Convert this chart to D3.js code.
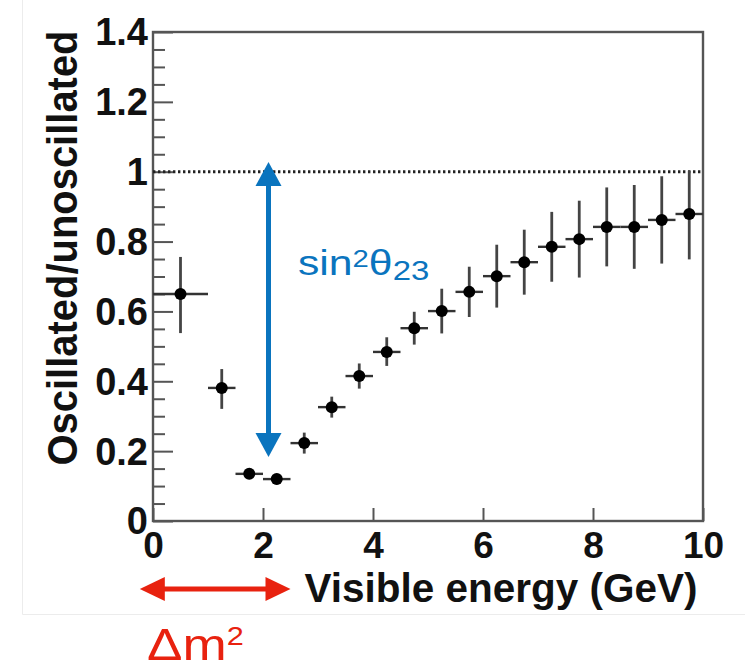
<!DOCTYPE html>
<html>
<head>
<meta charset="utf-8">
<script src="https://cdn.jsdelivr.net/npm/d3@7"></script>
<style>
  html, body { margin: 0; padding: 0; background: #fff; }
  svg { display: block; }
  text { font-family: "Liberation Sans", Arial, Helvetica, sans-serif; }
</style>
</head>
<body>
<svg id="chart" width="745" height="670"></svg>
<script>
// Bin centres (GeV), bin half-widths, ratio values and asymmetric errors
const energy    = [0.5, 1.25, 1.75, 2.25, 2.75, 3.25, 3.75, 4.25, 4.75, 5.25, 5.75, 6.25, 6.75, 7.25, 7.75, 8.25, 8.75, 9.25, 9.75];
const halfWidth = [0.5, 0.25, 0.25, 0.25, 0.25, 0.25, 0.25, 0.25, 0.25, 0.25, 0.25, 0.25, 0.25, 0.25, 0.25, 0.25, 0.25, 0.25, 0.25];
const ratio     = [0.65, 0.381, 0.135, 0.12, 0.223, 0.326, 0.415, 0.484, 0.552, 0.601, 0.656, 0.701, 0.741, 0.785, 0.807, 0.842, 0.842, 0.862, 0.879];
const errUp     = [0.106, 0.054, 0.015, 0.015, 0.03, 0.03, 0.036, 0.042, 0.047, 0.064, 0.072, 0.09, 0.093, 0.1, 0.11, 0.113, 0.12, 0.125, 0.124];
const errDown   = [0.112, 0.06, 0.015, 0.015, 0.03, 0.03, 0.036, 0.04, 0.047, 0.064, 0.072, 0.09, 0.093, 0.1, 0.11, 0.113, 0.12, 0.125, 0.13];

// Axis ticks
const xTicks      = [0, 2, 4, 6, 8, 10];
const yMajorTicks = [0, 0.2, 0.4, 0.6, 0.8, 1, 1.2, 1.4];
const yMinorTicks = d3.range(0, 1.4001, 0.05).filter(v => Math.abs(Math.round(v * 5) - v * 5) > 1e-6);
const xTickLabels = ["0", "2", "4", "6", "8", "10"];
const yTickLabels = ["0", "0.2", "0.4", "0.6", "0.8", "1", "1.2", "1.4"];

// Annotation extents in data units
const mixingArrow = { energy: 2.1, from: 0.183, to: 1.028 };   // sin²θ23 depth
const massArrow   = { from: -0.24, to: 2.5 };                  // Δm² position

const svg = d3.select("#chart");
const W = 745, H = 670;
const plot = { left: 153, right: 703, top: 32, bottom: 521 };

const x = d3.scaleLinear().domain([0, 10]).range([plot.left, plot.right]);
const y = d3.scaleLinear().domain([0, 1.4]).range([plot.bottom, plot.top]);

svg.append("rect").attr("width", W).attr("height", H).attr("fill", "#fff");

// faint page frame
svg.append("line").attr("x1", 22.5).attr("x2", 22.5).attr("y1", 0).attr("y2", 614.5)
  .attr("stroke", "#ececec").attr("stroke-width", 1);
svg.append("line").attr("x1", 22.5).attr("x2", W).attr("y1", 614.5).attr("y2", 614.5)
  .attr("stroke", "#ececec").attr("stroke-width", 1);

const axisColor = "#555";

// y axis: major ticks with labels, minor ticks without
const yAxis = svg.append("g").attr("transform", `translate(${plot.left},0)`)
  .call(d3.axisLeft(y).tickValues(yMajorTicks).tickSize(-20).tickPadding(5)
    .tickFormat((d, i) => yTickLabels[i]));
yAxis.select(".domain").remove();
yAxis.selectAll(".tick line").attr("stroke", axisColor).attr("stroke-width", 2);
yAxis.selectAll(".tick text").attr("fill", "#111").attr("font-size", 38)
  .attr("font-weight", "bold").attr("dy", "0.34em");

const yMinor = svg.append("g").attr("transform", `translate(${plot.left},0)`)
  .call(d3.axisLeft(y).tickValues(yMinorTicks).tickSize(-12).tickFormat(""));
yMinor.select(".domain").remove();
yMinor.selectAll(".tick line").attr("stroke", axisColor).attr("stroke-width", 2);

// x axis
const xAxis = svg.append("g").attr("transform", `translate(0,${plot.bottom})`)
  .call(d3.axisBottom(x).tickValues(xTicks).tickSize(-13).tickPadding(11)
    .tickFormat((d, i) => xTickLabels[i]));
xAxis.select(".domain").remove();
xAxis.selectAll(".tick line").attr("stroke", axisColor).attr("stroke-width", 2);
xAxis.selectAll(".tick text").attr("fill", "#111").attr("font-size", 37)
  .attr("font-weight", "bold");

// plot frame
svg.append("rect")
  .attr("x", plot.left).attr("y", plot.top)
  .attr("width", plot.right - plot.left).attr("height", plot.bottom - plot.top)
  .attr("fill", "none").attr("stroke", axisColor).attr("stroke-width", 2.4);

// reference line at ratio = 1
svg.append("line")
  .attr("x1", x(0)).attr("x2", x(10)).attr("y1", y(1)).attr("y2", y(1))
  .attr("stroke", "#222").attr("stroke-width", 3).attr("stroke-dasharray", "2.4,2.6");

// data points with error bars
const pts = energy.map((e, i) => ({ e, hw: halfWidth[i], v: ratio[i], up: errUp[i], dn: errDown[i] }));
const gPts = svg.append("g");
gPts.selectAll("line.ex").data(pts).join("line").attr("class", "ex")
  .attr("x1", d => x(d.e - d.hw)).attr("x2", d => x(d.e + d.hw))
  .attr("y1", d => y(d.v)).attr("y2", d => y(d.v))
  .attr("stroke", "#333").attr("stroke-width", 2.4);
gPts.selectAll("line.ey").data(pts).join("line").attr("class", "ey")
  .attr("x1", d => x(d.e)).attr("x2", d => x(d.e))
  .attr("y1", d => y(d.v + d.up)).attr("y2", d => y(d.v - d.dn))
  .attr("stroke", "#444").attr("stroke-width", 2.8);
gPts.selectAll("circle").data(pts).join("circle")
  .attr("cx", d => x(d.e)).attr("cy", d => y(d.v)).attr("r", 6)
  .attr("fill", "#000");

// axis titles
svg.append("text")
  .attr("x", 501).attr("y", 602).attr("text-anchor", "middle")
  .attr("font-size", 40).attr("font-weight", "bold").attr("fill", "#111")
  .attr("textLength", 393).attr("lengthAdjust", "spacingAndGlyphs")
  .text("Visible energy (GeV)");

svg.append("text")
  .attr("transform", "translate(77,248) rotate(-90)")
  .attr("text-anchor", "middle")
  .attr("font-size", 42).attr("font-weight", "bold").attr("fill", "#111")
  .attr("textLength", 435).attr("lengthAdjust", "spacingAndGlyphs")
  .text("Oscillated/unoscillated");

// double-headed arrow helper
function doubleArrow(x1, y1, x2, y2, color, width, headLen, headHalf) {
  const g = svg.append("g");
  const dx = x2 - x1, dy = y2 - y1, len = Math.hypot(dx, dy);
  const ux = dx / len, uy = dy / len, px = -uy, py = ux;
  g.append("line")
    .attr("x1", x1 + ux * headLen * 0.8).attr("y1", y1 + uy * headLen * 0.8)
    .attr("x2", x2 - ux * headLen * 0.8).attr("y2", y2 - uy * headLen * 0.8)
    .attr("stroke", color).attr("stroke-width", width);
  const head = (tx, ty, sx, sy) => {
    const bx = tx + sx * headLen, by = ty + sy * headLen;
    return `M${tx},${ty}L${bx + px * headHalf},${by + py * headHalf}L${bx - px * headHalf},${by - py * headHalf}Z`;
  };
  g.append("path").attr("d", head(x1, y1, ux, uy)).attr("fill", color);
  g.append("path").attr("d", head(x2, y2, -ux, -uy)).attr("fill", color);
}

const blue = "#0a74be", red = "#e8220f";
doubleArrow(x(mixingArrow.energy), y(mixingArrow.to), x(mixingArrow.energy), y(mixingArrow.from),
  blue, 5, 24, 13);
doubleArrow(x(massArrow.from), 589, x(massArrow.to), 589, red, 5, 25, 12);

// sin²θ23 label
const sinLabel = svg.append("text")
  .attr("transform", "translate(298,275) scale(1.22,1)")
  .attr("fill", blue).attr("font-size", 35);
sinLabel.append("tspan").text("sin");
sinLabel.append("tspan").attr("font-size", 24).attr("dy", -8).text("2");
sinLabel.append("tspan").attr("dy", 8).text("θ");
sinLabel.append("tspan").attr("font-size", 27).attr("dy", 5).text("23");

// Δm² label
const dmLabel = svg.append("text")
  .attr("transform", "translate(147,660) scale(1.18,1)")
  .attr("fill", red).attr("font-size", 45);
dmLabel.append("tspan").text("Δm");
dmLabel.append("tspan").attr("font-size", 26).attr("dy", -15).text("2");
</script>
</body>
</html>
